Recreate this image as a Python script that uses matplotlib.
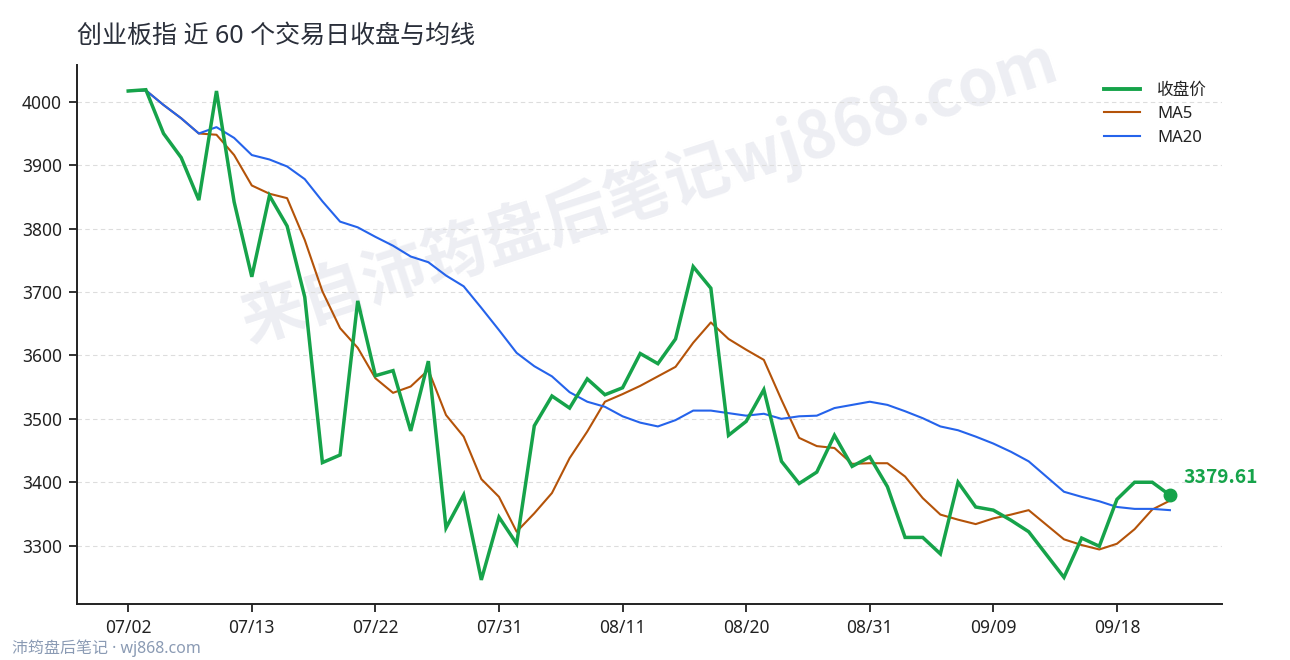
import matplotlib
matplotlib.use("Agg")
import matplotlib.pyplot as plt
from matplotlib.lines import Line2D

plt.rcParams['font.family'] = ['Noto Sans', 'Noto Sans CJK SC', 'DejaVu Sans']

dates = ["07/02", "07/03", "07/06", "07/07", "07/08", "07/09", "07/10", "07/13", "07/14", "07/15",
         "07/16", "07/17", "07/20", "07/21", "07/22", "07/23", "07/24", "07/27", "07/28", "07/29",
         "07/30", "07/31", "08/03", "08/04", "08/05", "08/06", "08/07", "08/10", "08/11", "08/12",
         "08/13", "08/14", "08/17", "08/18", "08/19", "08/20", "08/21", "08/24", "08/25", "08/26",
         "08/27", "08/28", "08/31", "09/01", "09/02", "09/03", "09/04", "09/07", "09/08", "09/09",
         "09/10", "09/11", "09/14", "09/15", "09/16", "09/17", "09/18", "09/21", "09/22", "09/23"]

close = [4017, 4019, 3950, 3912, 3845, 4017, 3842, 3724, 3852, 3804,
         3692, 3431, 3443, 3686, 3568, 3576, 3481, 3591, 3328, 3380,
         3246, 3345, 3303, 3489, 3536, 3517, 3563, 3538, 3549, 3603,
         3587, 3626, 3740, 3706, 3474, 3496, 3546, 3433, 3398, 3416,
         3474, 3425, 3440, 3393, 3313, 3313, 3287, 3400, 3361, 3356,
         3340, 3322, 3286, 3250, 3312, 3299, 3373, 3400, 3400, 3379.61]

ma5 = [4017, 4018, 3995, 3974, 3950, 3948, 3916, 3868, 3855, 3848,
       3782, 3701, 3643, 3612, 3564, 3541, 3551, 3577, 3506, 3472,
       3405, 3377, 3322, 3351, 3383, 3438, 3480, 3527, 3539, 3552,
       3567, 3582, 3620, 3652, 3626, 3609, 3593, 3530, 3470, 3457,
       3454, 3429, 3430, 3430, 3409, 3375, 3349, 3341, 3334, 3343,
       3349, 3356, 3333, 3310, 3301, 3294, 3303, 3326, 3357, 3371]

ma20 = [4017, 4018, 3995, 3974, 3950, 3960, 3943, 3916, 3909, 3898,
        3878, 3843, 3811, 3802, 3787, 3773, 3756, 3747, 3726, 3709,
        3675, 3640, 3604, 3583, 3567, 3542, 3527, 3519, 3504, 3494,
        3488, 3498, 3513, 3513, 3509, 3505, 3508, 3500, 3504, 3505,
        3517, 3522, 3527, 3522, 3512, 3501, 3488, 3482, 3472, 3461,
        3448, 3433, 3409, 3385, 3377, 3370, 3361, 3358, 3358, 3356]

yticks = [3300, 3400, 3500, 3600, 3700, 3800, 3900, 4000]
series_names = ["收盘价", "MA5", "MA20"]

GREEN = "#16a34a"
ORANGE = "#b45309"
BLUE = "#2563eb"
BOLD_FAMILY = ["Noto Sans CJK SC", "DejaVu Sans"]

fig = plt.figure(figsize=(12.9, 6.6), dpi=100)
ax = fig.add_axes([77 / 1290, 1 - 604 / 660, (1222 - 77) / 1290, (604 - 65) / 660])

x = list(range(len(dates)))

ax.text(0.5, 0.765, "来自沛筠盘后笔记wj868.com", transform=ax.transAxes,
        rotation=18, ha="center", va="center", rotation_mode="anchor",
        fontsize=46, fontweight="bold", color="#edeef3", zorder=0, family=BOLD_FAMILY)

ax.plot(x, close, color=GREEN, lw=2.5, zorder=4, solid_joinstyle="miter")
ax.plot(x, ma5, color=ORANGE, lw=1.5, zorder=3)
ax.plot(x, ma20, color=BLUE, lw=1.5, zorder=3)

ax.plot(x[-1], close[-1], "o", ms=9, color=GREEN, zorder=5)
ax.annotate(f"{close[-1]:.2f}", xy=(x[-1], close[-1]), xytext=(10, 8.5),
            textcoords="offset points", ha="left", va="baseline",
            fontsize=13.8, fontweight="bold", color=GREEN, zorder=6, family=BOLD_FAMILY)

ax.set_xlim(-2.9, 61.95)
ax.set_ylim(3208, 4058)
ax.set_yticks(yticks)
ax.set_xticks(x[::7])
ax.set_xticklabels(dates[::7])

ax.grid(axis="y", color="#dddddd", ls=(0, (4, 3)), lw=0.8, zorder=1)
ax.set_axisbelow(True)

for s in ["top", "right"]:
    ax.spines[s].set_visible(False)
for s in ["left", "bottom"]:
    ax.spines[s].set_color("#222222")
    ax.spines[s].set_linewidth(1.4)
ax.tick_params(axis="both", colors="#222222", labelsize=12.5, length=6, width=1.3, pad=5)

handles = [Line2D([], [], color=GREEN, lw=2.8),
           Line2D([], [], color=ORANGE, lw=1.5),
           Line2D([], [], color=BLUE, lw=1.5)]
leg = ax.legend(handles, series_names, loc="upper right", bbox_to_anchor=(1.0, 0.995),
                frameon=False, fontsize=12, handlelength=2.2, handletextpad=1.0,
                labelspacing=0.45)
for t in leg.get_texts():
    t.set_color("#222222")

fig.text(77 / 1290, 1 - 36 / 660, "创业板指 近 60 个交易日收盘与均线", ha="left", va="center",
         fontsize=18, color="#2a2f3a")
fig.text(12 / 1290, 1 - 648 / 660, "沛筠盘后笔记 · wj868.com", ha="left", va="center",
         fontsize=11.5, color="#8b9bb4")

fig.savefig("out.png", dpi=100)
